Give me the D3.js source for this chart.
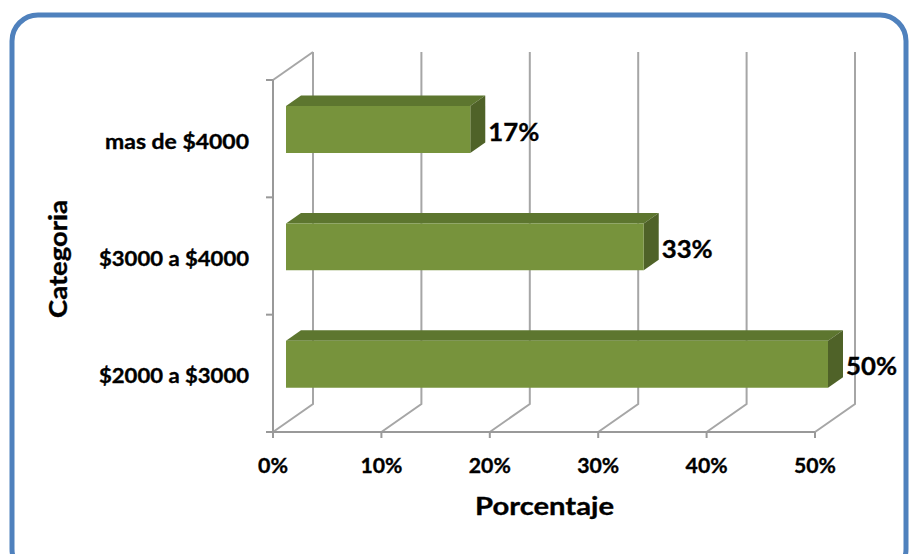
<!DOCTYPE html>
<html>
<head>
<meta charset="utf-8">
<script src="https://cdn.jsdelivr.net/npm/d3@7"></script>
<style>
  html, body { margin: 0; padding: 0; background: #ffffff; }
  svg { display: block; }
  text { font-family: Lato, "Open Sans", "DejaVu Sans", sans-serif; font-weight: 700; fill: #000; stroke: #000; stroke-width: 0.35; }
</style>
</head>
<body>
<svg id="chart" width="909" height="554"></svg>
<script>
// Income brackets, listed top to bottom
const categories = ["mas de $4000", "$3000 a $4000", "$2000 a $3000"];
const percentages = [17, 33, 50];
const tickValues = [0, 10, 20, 30, 40, 50];
const tickLabels = ["0%", "10%", "20%", "30%", "40%", "50%"];
const xTitle = "Porcentaje";
const yTitle = "Categoria";

const svg = d3.select("#chart");

// Rounded frame around the chart area
svg.append("rect")
  .attr("x", 12).attr("y", 15)
  .attr("width", 894).attr("height", 560)
  .attr("rx", 26).attr("ry", 26)
  .attr("fill", "#fff")
  .attr("stroke", "#4f81bd")
  .attr("stroke-width", 5);

// Front plane scales
const x = d3.scaleLinear().domain([0, 50]).range([273, 815]);
const y = d3.scaleBand().domain(categories).range([80, 432])
  .paddingInner(0.6).paddingOuter(0.3);
const yTop = 80, yBottom = 432;

// Depth projection: d = 0 is the front plane, d = 1 the back wall
const DX = 40, DY = 28;
const proj = (v, py, d) => [x(v) + d * DX, py - d * DY];
const barD0 = 0.325, barD1 = 0.7;

// Fit a label to a given width, stretching the glyphs (wide bold face)
function fitText(sel, width) {
  sel.attr("textLength", width).attr("lengthAdjust", "spacingAndGlyphs");
  return sel;
}

const grid = svg.append("g").attr("fill", "none").attr("stroke", "#a6a6a6").attr("stroke-width", 2);

// Back wall gridlines with their floor diagonals
tickValues.forEach(t => {
  const a = proj(t, yTop, 1), b = proj(t, yBottom, 1), c = proj(t, yBottom, 0);
  grid.append("path").attr("d", d3.line()([a, b, c]));
});
// Side wall top edge
grid.append("path").attr("d", d3.line()([proj(0, yTop, 0), proj(0, yTop, 1)]));

// Axes on the front plane
const axisG = svg.append("g").attr("fill", "none").attr("stroke", "#999").attr("stroke-width", 2);
axisG.append("path").attr("d", d3.line()([[x(0), yTop], [x(0), yBottom], [x(50), yBottom]]));
tickValues.forEach(t => {
  axisG.append("path").attr("d", d3.line()([[x(t), yBottom], [x(t), yBottom + 6]]));
});
const catEdges = [yTop].concat(categories.map(c => y(c) + y.bandwidth() + (y.step() * y.paddingInner()) / 2));
catEdges.forEach(e => {
  axisG.append("path").attr("d", d3.line()([[x(0) - 7, e], [x(0), e]]));
});

// 3D bars
const bars = svg.append("g");
categories.forEach((c, i) => {
  const v = percentages[i];
  const t = y(c), b = y(c) + y.bandwidth();
  const g = bars.append("g");
  const f = [proj(0, t, barD0), proj(v, t, barD0), proj(v, b, barD0), proj(0, b, barD0)];
  const top = [proj(0, t, barD0), proj(v, t, barD0), proj(v, t, barD1), proj(0, t, barD1)];
  const side = [proj(v, t, barD0), proj(v, t, barD1), proj(v, b, barD1), proj(v, b, barD0)];
  g.append("polygon").attr("points", top.join(" ")).attr("fill", "#5d762f");
  g.append("polygon").attr("points", side.join(" ")).attr("fill", "#4f6228");
  g.append("polygon").attr("points", f.join(" ")).attr("fill", "#77933c");

  const lp = proj(v, (t + b) / 2, barD1);
  const fc = proj(v, (t + b) / 2, barD0);
  fitText(svg.append("text")
    .attr("x", lp[0] + 3)
    .attr("y", fc[1] + 11)
    .attr("font-size", 25)
    .text(v + "%"), 51);
});

// Category labels
const catWidths = [144, 150, 150];
categories.forEach((c, i) => {
  fitText(svg.append("text")
    .attr("x", 99 + (150 - catWidths[i]))
    .attr("y", y(c) + y.bandwidth() / 2 + 10)
    .attr("font-size", 21)
    .text(c), catWidths[i]);
});

// Value axis labels
tickValues.forEach((t, i) => {
  const w = tickLabels[i].length === 2 ? 30 : 42;
  fitText(svg.append("text")
    .attr("x", x(t) - w / 2)
    .attr("y", 473)
    .attr("font-size", 21)
    .text(tickLabels[i]), w);
});

// Axis titles
fitText(svg.append("text")
  .attr("x", 475).attr("y", 515)
  .attr("font-size", 25)
  .text(xTitle), 139);

fitText(svg.append("text")
  .attr("transform", "translate(67,318) rotate(-90)")
  .attr("font-size", 24)
  .text(yTitle), 118);
</script>
</body>
</html>
